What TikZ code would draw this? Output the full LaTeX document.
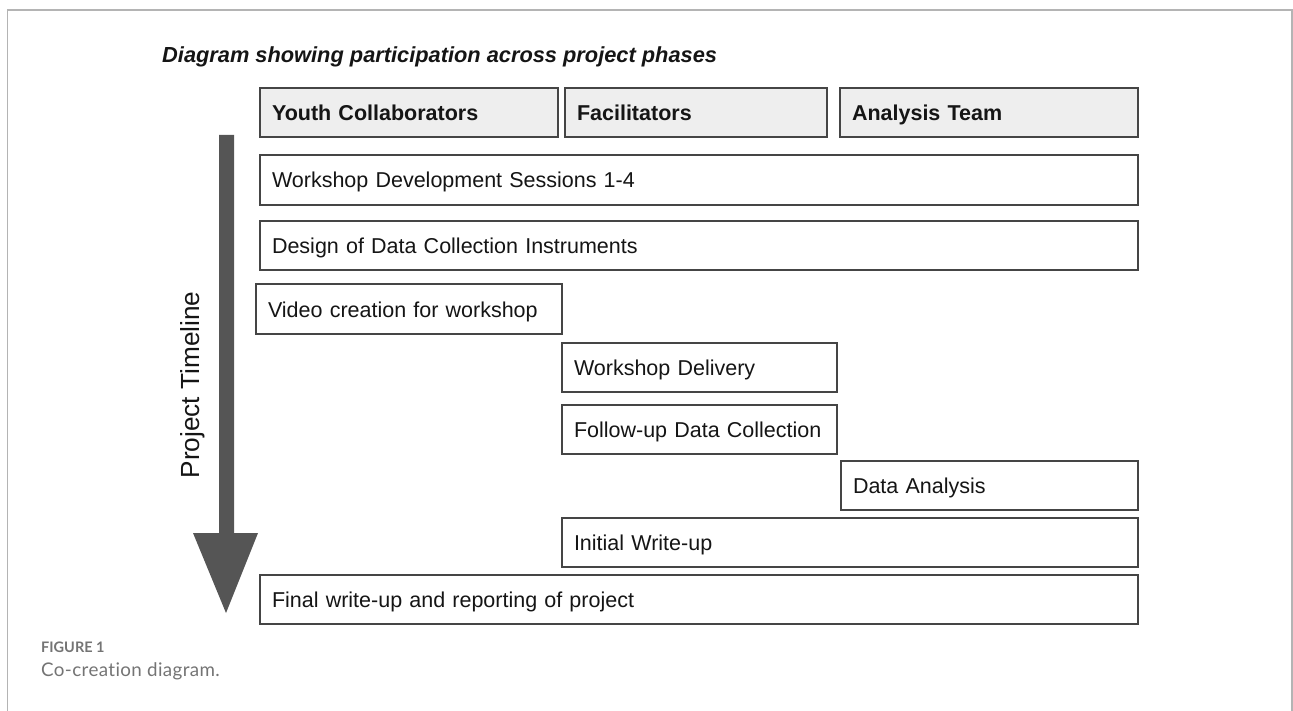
\documentclass[tikz,border=0pt]{standalone}
\usepackage{fontspec}
\setmainfont{Liberation Sans}
\newfontfamily\capfont[Ligatures=NoCommon,LetterSpace=2]{Lato}
\newfontfamily\caplabelfont[Ligatures=NoCommon]{Lato}
\definecolor{framegray}{HTML}{B4B4B4}
\definecolor{boxline}{HTML}{454545}
\definecolor{headfill}{HTML}{EEEEEE}
\definecolor{arrowgray}{HTML}{555555}
\definecolor{captext}{HTML}{747474}
\definecolor{ink}{HTML}{151515}

\tikzset{
  phasebox/.style={draw=boxline, line width=1.3pt, fill=white, rectangle,
    inner xsep=12pt, inner ysep=0pt, outer sep=0pt, align=left,
    text height=19pt, text depth=3pt,
    text=ink, font=\fontsize{21.5}{24}\selectfont},
  headbox/.style={phasebox, fill=headfill, font=\fontsize{21.5}{24}\selectfont\bfseries},
}

% \phasebox{style}{name}{x1}{y1}{x2}{y2}{text} -- corners given in pt, y downwards
\newcommand\phasebox[7]{%
  \pgfmathsetmacro\pbcx{(#3+#5)/2}%
  \pgfmathsetmacro\pbcy{-(#4+#6)/2}%
  \pgfmathsetmacro\pbtw{#5-#3-24}%
  \pgfmathsetmacro\pbh{#6-#4}%
  \node[#1, text width=\pbtw pt, minimum height=\pbh pt] (#2) at (\pbcx pt,\pbcy pt) {#7};%
}

\begin{document}
\begin{tikzpicture}[x=1pt,y=1pt]
\useasboundingbox (0,0) rectangle (1293,-711);

% outer figure frame
\draw[framegray, line width=1.2pt] (7.5,-711) -- (7.5,-10) -- (1292,-10) -- (1292,-711);

% title
\node[anchor=west, inner sep=0pt, text=ink, font=\fontsize{21.8}{24}\selectfont\bfseries\itshape] (title) at (162,-57) {Diagram showing participation across project phases};

% timeline arrow
\fill[arrowgray] (219,-135) -- (234,-135) -- (234,-533) -- (258,-533) -- (226,-613) -- (193,-533) -- (219,-533) -- cycle;
\node[rotate=90, inner sep=0pt, text=ink, font=\fontsize{26.2}{28}\selectfont] (timeline) at (193,-385) {Project Timeline};

% participant headers
\phasebox{headbox}{hyouth}{260}{88}{558}{137}{Youth Collaborators}
\phasebox{headbox}{hfac}{565}{88}{827}{137}{Facilitators}
\phasebox{headbox}{hteam}{840}{88}{1138}{137}{Analysis Team}

% project phases
\phasebox{phasebox}{wdev}{260}{155}{1138}{205}{Workshop Development Sessions 1-4}
\phasebox{phasebox}{design}{260}{221}{1138}{270}{Design of Data Collection Instruments}
\phasebox{phasebox}{video}{256}{284}{562}{334}{Video creation for workshop}
\phasebox{phasebox}{deliv}{562}{343}{837}{392}{Workshop Delivery}
\phasebox{phasebox}{follow}{562}{405}{837}{454}{Follow-up Data Collection}
\phasebox{phasebox}{analysis}{841}{461}{1138}{510}{Data Analysis}
\phasebox{phasebox}{initial}{562}{518}{1138}{567}{Initial Write-up}
\phasebox{phasebox}{final}{260}{575}{1138}{624}{Final write-up and reporting of project}

% caption
\node[anchor=west, inner sep=0pt, text=captext, font=\caplabelfont\bfseries\fontsize{14.5}{16}\selectfont] (figlabel) at (41,-647) {FIGURE 1};
\node[anchor=west, inner sep=0pt, text=captext, font=\capfont\fontsize{18.8}{21}\selectfont] (figcap) at (41,-671) {Co-creation diagram.};
\end{tikzpicture}
\end{document}
